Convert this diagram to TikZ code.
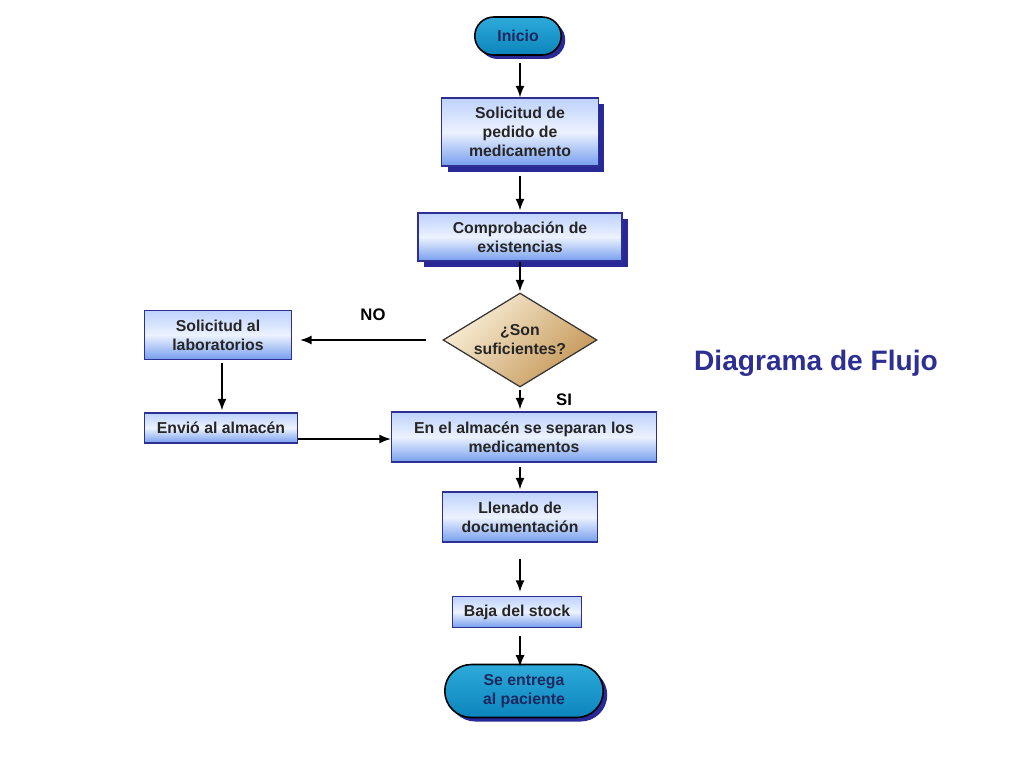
\documentclass[tikz,border=0pt]{standalone}
\usepackage{fontspec}
\setmainfont{Liberation Sans}
\usetikzlibrary{shapes.geometric,shapes.misc,shadows,arrows.meta}

\definecolor{navy}{RGB}{45,48,146}
\definecolor{shadowblue}{RGB}{40,40,150}
\definecolor{boxtop}{RGB}{190,210,252}
\definecolor{boxmid}{RGB}{236,242,255}
\definecolor{boxbot}{RGB}{118,158,238}
\definecolor{termtop}{RGB}{45,170,218}
\definecolor{termbot}{RGB}{12,132,188}
\definecolor{termtext}{RGB}{25,40,95}
\definecolor{tanlight}{RGB}{250,240,218}
\definecolor{tandark}{RGB}{196,150,86}

\tikzset{
  box/.style={draw=navy, line width=0.8pt, top color=boxtop, bottom color=boxbot,
    middle color=boxmid, align=center, inner sep=1pt, text=black!85,
    font=\bfseries\fontsize{9}{10.8}\selectfont},
  shbox/.style={box, drop shadow={shadow xshift=0.12cm, shadow yshift=-0.12cm,
    fill=shadowblue, opacity=1}},
  term/.style={rounded rectangle, draw=black, line width=0.9pt, top color=termtop,
    bottom color=termbot, align=center, text=termtext, inner sep=1pt,
    font=\bfseries\fontsize{9}{10.8}\selectfont,
    drop shadow={shadow xshift=0.08cm, shadow yshift=-0.08cm, fill=shadowblue, opacity=1}},
  decide/.style={diamond, draw=black!80, line width=0.7pt, shape aspect=1.64, inner sep=0pt,
    top color=tanlight, bottom color=tandark, shading angle=45, align=center,
    text=black!85, font=\bfseries\fontsize{9}{10.8}\selectfont},
  answer/.style={font=\bfseries\fontsize{9.5}{11}\selectfont},
  flow/.style={-{Latex[length=0.23cm, width=0.18cm]}, thick}
}

\begin{document}
\begin{tikzpicture}[x=0.02cm, y=-0.02cm]
\useasboundingbox[fill=white] (0,0) rectangle (1024,768);

\node[term, minimum width=1.8cm, minimum height=0.76cm] (inicio) at (518,36) {Inicio};
\node[shbox, minimum width=3.14cm, minimum height=1.36cm] (pedido) at (520,132)
  {Solicitud de\\pedido de\\medicamento};
\node[shbox, minimum width=4.08cm, minimum height=0.96cm] (comprob) at (520,237)
  {Comprobación de\\existencias};
\node[decide, minimum width=3.08cm, minimum height=1.88cm] (decision) at (520,340)
  {¿Son\\suficientes?};

% left branch
\node[box, minimum width=2.94cm, minimum height=0.98cm] (lab) at (218,335)
  {Solicitud al\\laboratorios};
\node[box, minimum width=3.06cm, minimum height=0.6cm] (envio) at (221,428)
  {Envió al almacén};

\node[box, minimum width=5.3cm, minimum height=1.0cm] (almacen) at (524,437)
  {En el almacén se separan los\\medicamentos};
\node[box, minimum width=3.1cm, minimum height=1.0cm] (llenado) at (520,517)
  {Llenado de\\documentación};
\node[box, minimum width=2.58cm, minimum height=0.62cm] (baja) at (517,612)
  {Baja del stock};
\node[term, minimum width=3.24cm, minimum height=1.06cm] (entrega) at (524,691)
  {Se entrega\\al paciente};

\node[answer] (no) at (373,315) {NO};
\node[answer] (si) at (564,400) {SI};

\node[text=navy, font=\bfseries\fontsize{16}{19}\selectfont] (titulo) at (816,363)
  {Diagrama de Flujo};

\draw[flow, shorten <=0.14cm] (inicio.south -| 520,0) -- (pedido.north -| 520,0);
\draw[flow, shorten <=0.18cm, shorten >=0.04cm] (pedido.south -| 520,0) -- (comprob.north -| 520,0);
\draw[flow, shorten >=0.02cm] (comprob.south -| 520,0) -- (decision.north);
\draw[flow, shorten <=0.32cm, shorten >=0.16cm] (decision.west) -- (decision.west -| lab.east);
\draw[flow, shorten <=0.04cm, shorten >=0.04cm] (decision.south) -- (almacen.north -| 520,0);
\draw[flow, shorten <=0.06cm, shorten >=0.04cm] (lab.south -| 222,0) -- (envio.north -| 222,0);
\draw[flow] ([yshift=-0.22cm]envio.east) -- ([yshift=-0.22cm]envio.east -| almacen.west);
\draw[flow, shorten <=0.08cm, shorten >=0.04cm] (almacen.south -| 520,0) -- (llenado.north -| 520,0);
\draw[flow, shorten <=0.32cm, shorten >=0.08cm] (llenado.south -| 520,0) -- (baja.north -| 520,0);
\draw[flow, shorten <=0.16cm, shorten >=-0.06cm] (baja.south -| 520,0) -- (entrega.north -| 520,0);
\end{tikzpicture}
\end{document}
